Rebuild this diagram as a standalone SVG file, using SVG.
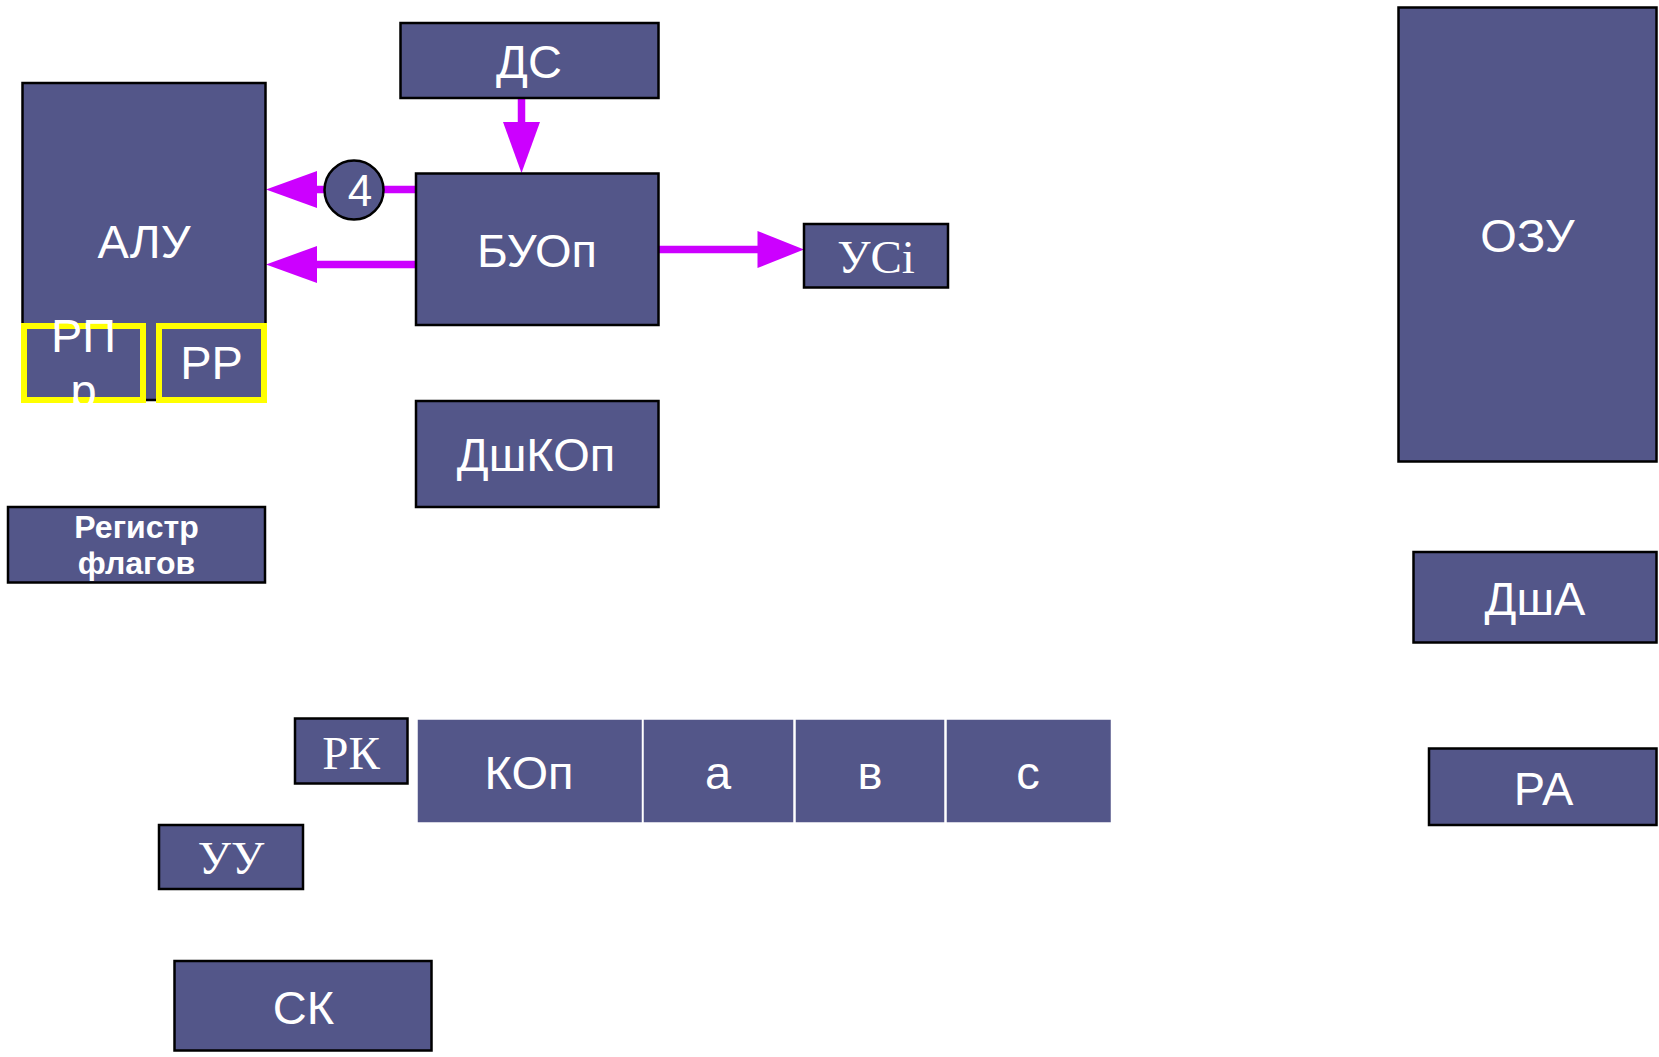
<svg xmlns="http://www.w3.org/2000/svg" width="1659" height="1057" viewBox="0 0 1659 1057">
<style>
.box{fill:#535689;stroke:#000;stroke-width:2.5}
.cell{fill:#535689;stroke:#fff;stroke-width:1.5}
.ybox{fill:#535689;stroke:#ffff00;stroke-width:6}
.t{font-family:"Liberation Sans",Arial,sans-serif;font-size:47px;fill:#fff;text-anchor:middle}
.s{font-family:"Liberation Serif","Times New Roman",serif;font-size:47px;fill:#fff;text-anchor:middle}
.b{font-family:"Liberation Sans",Arial,sans-serif;font-size:32px;font-weight:bold;fill:#fff;text-anchor:middle}
.ln{stroke:#cc00ff;stroke-width:7.5;fill:none}
.hd{fill:#cc00ff}
</style>
<defs>
<clipPath id="cpRP"><rect x="21" y="290" width="125" height="113"/></clipPath>
</defs>
<rect width="1659" height="1057" fill="#fff"/>

<g id="connectors">
<line class="ln" x1="521.5" y1="98" x2="521.5" y2="126"/>
<polygon class="hd" points="503,122 540,122 521.5,173"/>
<line class="ln" x1="416" y1="189.5" x2="314" y2="189.5"/>
<polygon class="hd" points="317,171 317,208 266,189.5"/>
<line class="ln" x1="416" y1="264.5" x2="314" y2="264.5"/>
<polygon class="hd" points="317,246 317,283 266,264.5"/>
<line class="ln" x1="658" y1="249.5" x2="761" y2="249.5"/>
<polygon class="hd" points="757.5,231 757.5,268 804,249.5"/>
</g>

<g id="ds"><rect class="box" x="400.5" y="23" width="258" height="75"/><text class="t" x="529" y="78">ДС</text></g>

<g id="alu"><rect class="box" x="22.5" y="83" width="243" height="317"/><text class="t" x="144" y="258">АЛУ</text></g>

<g id="rpr"><rect class="ybox" x="24" y="326" width="119" height="74"/>
<g clip-path="url(#cpRP)"><text class="t" x="83.5" y="352">РП</text><text class="t" x="83.5" y="407">р</text></g></g>

<g id="rr"><rect class="ybox" x="159" y="326" width="105" height="74"/><text class="t" x="211.5" y="379">РР</text></g>

<g id="circle4"><circle cx="354" cy="190" r="29.5" fill="#535689" stroke="#000" stroke-width="2.5"/><text class="t" x="360" y="206" style="font-size:44px">4</text></g>

<g id="buop"><rect class="box" x="416" y="173.5" width="242.5" height="151.5"/><text class="t" x="537" y="266.5">БУОп</text></g>

<g id="usi"><rect class="box" x="804" y="224" width="144" height="63.5"/><text class="s" x="876" y="273">УСі</text></g>

<g id="dshkop"><rect class="box" x="416" y="401" width="242.5" height="106"/><text class="t" x="536" y="471">ДшКОп</text></g>

<g id="regflags"><rect class="box" x="8" y="507" width="257" height="75.5"/><text class="b" x="136.5" y="538">Регистр</text><text class="b" x="136.5" y="574">флагов</text></g>

<g id="rk"><rect class="box" x="295" y="718.5" width="112.5" height="65"/><text class="s" x="351" y="769">РК</text></g>

<g id="kop-row">
<rect class="cell" x="417" y="719" width="225.5" height="104"/><text class="t" x="529" y="789">КОп</text>
<rect class="cell" x="643" y="719" width="151" height="104"/><text class="t" x="718" y="789">а</text>
<rect class="cell" x="795" y="719" width="150" height="104"/><text class="t" x="870" y="789">в</text>
<rect class="cell" x="946" y="719" width="165.5" height="104"/><text class="t" x="1028" y="789">с</text>
</g>

<g id="uu"><rect class="box" x="159" y="825" width="144" height="64"/><text class="s" x="231" y="874">УУ</text></g>

<g id="sk"><rect class="box" x="174.5" y="961" width="257" height="89.5"/><text class="t" x="303.5" y="1024">СК</text></g>

<g id="ozu"><rect class="box" x="1398.5" y="7.5" width="258" height="454"/><text class="t" x="1527.5" y="252">ОЗУ</text></g>

<g id="dsha"><rect class="box" x="1413.5" y="552" width="243" height="90.5"/><text class="t" x="1535" y="615">ДшА</text></g>

<g id="ra"><rect class="box" x="1429" y="748.5" width="227.5" height="76.5"/><text class="t" x="1543.5" y="805">РА</text></g>
</svg>
